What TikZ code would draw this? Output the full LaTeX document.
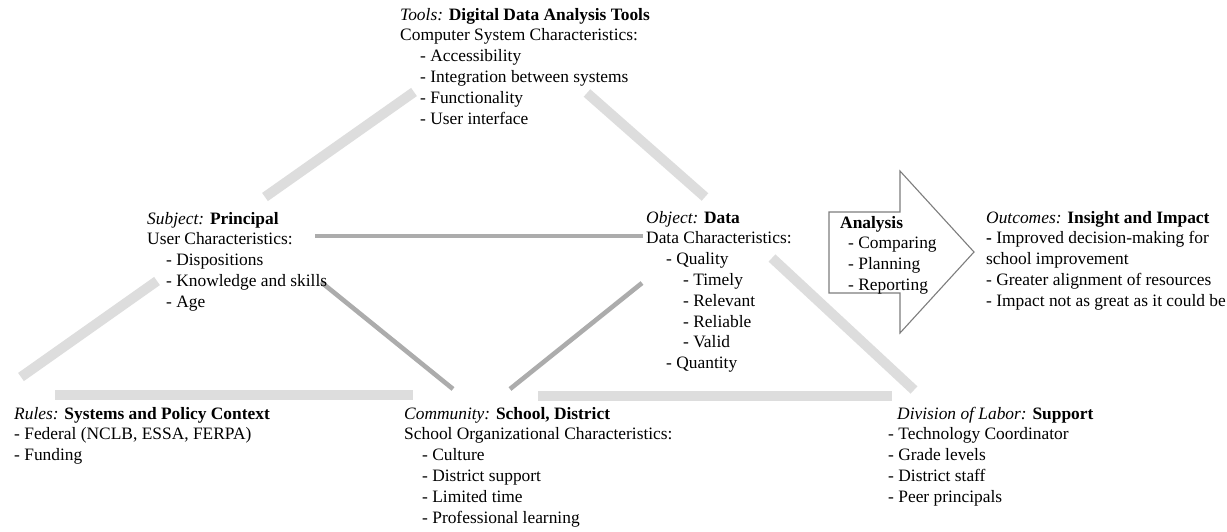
\documentclass[tikz,border=0pt]{standalone}
\usepackage{fontspec}
\setmainfont{Liberation Serif}
\definecolor{barlight}{RGB}{221,221,221}
\definecolor{bardark}{RGB}{172,172,172}
\definecolor{arrowline}{RGB}{125,125,125}
\begin{document}
\begin{tikzpicture}[x=1pt,y=-1pt,
  txt/.style={anchor=north west, inner sep=0pt, align=left,
              font=\fontsize{17.4}{20.8}\selectfont},
  lightbar/.style={line width=10pt, draw=barlight},
  darkbar/.style={line width=4.6pt, draw=bardark},
  flowarrow/.style={draw=arrowline, line width=1.1pt, fill=white, line join=miter}]
\useasboundingbox[fill=white] (0,0) rectangle (1227,531);

% connector end points
\coordinate (tsA) at (265,197);  \coordinate (tsB) at (414,92);
\coordinate (toA) at (587,93);   \coordinate (toB) at (705,197);
\coordinate (srA) at (157,281);  \coordinate (srB) at (21,377);
\coordinate (rcA) at (55,395);   \coordinate (rcB) at (413,395);
\coordinate (cdA) at (538,396);  \coordinate (cdB) at (892,396);
\coordinate (odA) at (772,258);  \coordinate (odB) at (914,390);
\coordinate (soA) at (315,236);  \coordinate (soB) at (643,236);
\coordinate (scA) at (321,282);  \coordinate (scB) at (453,389);
\coordinate (ocA) at (642,283);  \coordinate (ocB) at (510,389);

% light bars of the activity triangle
\draw[lightbar] (tsA) -- (tsB);
\draw[lightbar] (toA) -- (toB);
\draw[lightbar] (srA) -- (srB);
\draw[lightbar] (rcA) -- (rcB);
\draw[lightbar] (cdA) -- (cdB);
\draw[lightbar] (odA) -- (odB);
% darker inner links
\draw[darkbar] (soA) -- (soB);
\draw[darkbar] (scA) -- (scB);
\draw[darkbar] (ocA) -- (ocB);

% analysis arrow
\coordinate (arBL) at (829,293); \coordinate (arTL) at (829,212);
\coordinate (arTS) at (900,212); \coordinate (arHT) at (900,171);
\coordinate (arTip) at (974,252); \coordinate (arHB) at (900,333);
\coordinate (arBS) at (900,293);
\draw[flowarrow] (arTL) -- (arTS) -- (arHT) -- (arTip) -- (arHB) -- (arBS) -- (arBL) -- cycle;

% text blocks
\node[txt] (tools) at (400,5.4) {\strut\textit{Tools:} \textbf{Digital Data Analysis Tools}\\
  Computer System Characteristics:\\
  \hspace*{20pt}- Accessibility\\
  \hspace*{20pt}- Integration between systems\\
  \hspace*{20pt}- Functionality\\
  \hspace*{20pt}- User interface};

\node[txt] (subject) at (147,209.4) {\strut\textit{Subject:} \textbf{Principal}\\
  User Characteristics:\\
  \hspace*{19pt}- Dispositions\\
  \hspace*{19pt}- Knowledge and skills\\
  \hspace*{19pt}- Age};

\node[txt] (object) at (646,208.4) {\strut\textit{Object:} \textbf{Data}\\
  Data Characteristics:\\
  \hspace*{20pt}- Quality\\
  \hspace*{37pt}- Timely\\
  \hspace*{37pt}- Relevant\\
  \hspace*{37pt}- Reliable\\
  \hspace*{37pt}- Valid\\
  \hspace*{20pt}- Quantity};

\node[txt] (analysis) at (840,213.4) {\strut\textbf{Analysis}\\
  \hspace*{8pt}- Comparing\\
  \hspace*{8pt}- Planning\\
  \hspace*{8pt}- Reporting};

\node[txt] (outcomes) at (986,208.4) {\strut\textit{Outcomes:} \textbf{Insight and Impact}\\
  \textbf{-} Improved decision-making for\\
  school improvement\\
  - Greater alignment of resources\\
  - Impact not as great as it could be};

\node[txt] (rules) at (14,404.4) {\strut\textit{Rules:} \textbf{Systems and Policy Context}\\
  - Federal (NCLB, ESSA, FERPA)\\
  - Funding};

\node[txt] (community) at (404,404.4) {\strut\textit{Community:} \textbf{School, District}\\
  School Organizational Characteristics:\\
  \hspace*{18pt}- Culture\\
  \hspace*{18pt}- District support\\
  \hspace*{18pt}- Limited time\\
  \hspace*{18pt}- Professional learning};

\node[txt] (division) at (888,404.4) {\strut\hspace*{9pt}\textit{Division of Labor:} \textbf{Support}\\
  - Technology Coordinator\\
  - Grade levels\\
  - District staff\\
  - Peer principals};
\end{tikzpicture}
\end{document}
